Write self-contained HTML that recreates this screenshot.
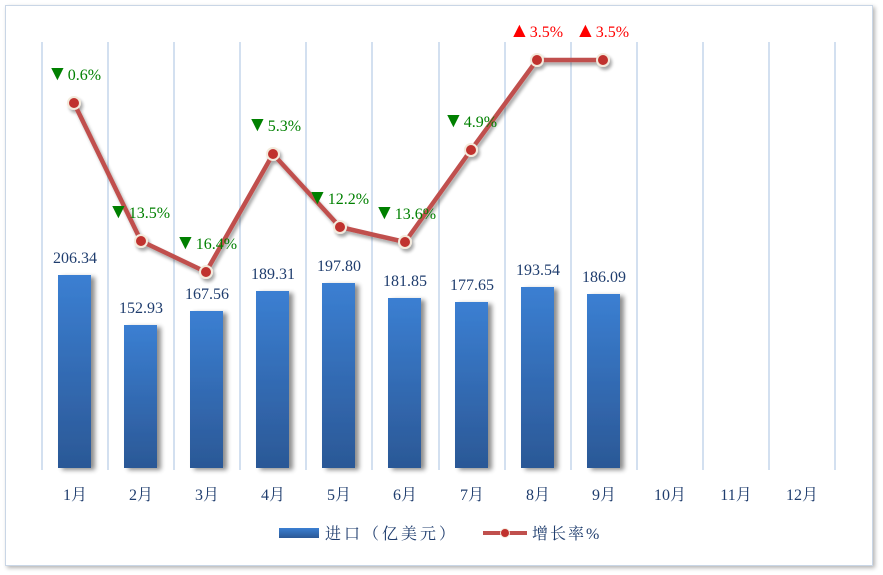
<!DOCTYPE html>
<html><head><meta charset="utf-8"><style>
body{margin:0;background:#fff;}
svg{display:block;font-family:"Liberation Serif","Noto Serif CJK SC",serif;}
</style></head><body>
<svg width="883" height="575" viewBox="0 0 883 575" xmlns="http://www.w3.org/2000/svg">
<defs>
<linearGradient id="bg" x1="0" y1="0" x2="0" y2="1"><stop offset="0" stop-color="#3b7fd2"/><stop offset="1" stop-color="#2b5896"/></linearGradient>
<filter id="sh" x="-30%" y="-10%" width="160%" height="120%"><feGaussianBlur in="SourceAlpha" stdDeviation="2.5"/><feOffset dx="4" dy="2"/><feComponentTransfer><feFuncA type="linear" slope="0.45"/></feComponentTransfer><feMerge><feMergeNode/><feMergeNode in="SourceGraphic"/></feMerge></filter>
<filter id="ls" x="-10%" y="-10%" width="120%" height="130%"><feGaussianBlur in="SourceAlpha" stdDeviation="1.5"/><feOffset dx="2" dy="3"/><feComponentTransfer><feFuncA type="linear" slope="0.35"/></feComponentTransfer><feMerge><feMergeNode/><feMergeNode in="SourceGraphic"/></feMerge></filter>
<filter id="bs" x="-5%" y="-5%" width="110%" height="110%"><feGaussianBlur in="SourceAlpha" stdDeviation="2"/><feOffset dx="2" dy="2"/><feComponentTransfer><feFuncA type="linear" slope="0.3"/></feComponentTransfer><feMerge><feMergeNode/><feMergeNode in="SourceGraphic"/></feMerge></filter>
</defs>
<rect x="5.5" y="5.5" width="867" height="560" fill="#fff" stroke="#c9d6e6" filter="url(#bs)"/>
<g stroke="#d3e0f0" stroke-width="2">
<line x1="42" y1="42" x2="42" y2="470"/><line x1="108" y1="42" x2="108" y2="470"/><line x1="174" y1="42" x2="174" y2="470"/><line x1="240" y1="42" x2="240" y2="470"/><line x1="306" y1="42" x2="306" y2="470"/><line x1="372" y1="42" x2="372" y2="470"/><line x1="439" y1="42" x2="439" y2="470"/><line x1="505" y1="42" x2="505" y2="470"/><line x1="571" y1="42" x2="571" y2="470"/><line x1="637" y1="42" x2="637" y2="470"/><line x1="703" y1="42" x2="703" y2="470"/><line x1="769" y1="42" x2="769" y2="470"/><line x1="835" y1="42" x2="835" y2="470"/>
</g>
<line x1="42" y1="469" x2="835" y2="469" stroke="#c5d3e5" stroke-width="2" filter="url(#sh)"/>
<g fill="url(#bg)" filter="url(#sh)">
<rect x="58" y="275" width="33" height="193"/>
<rect x="124" y="325" width="33" height="143"/>
<rect x="190" y="311" width="33" height="157"/>
<rect x="256" y="291" width="33" height="177"/>
<rect x="322" y="283" width="33" height="185"/>
<rect x="388" y="298" width="33" height="170"/>
<rect x="455" y="302" width="33" height="166"/>
<rect x="521" y="287" width="33" height="181"/>
<rect x="587" y="294" width="33" height="174"/>
</g>
<g fill="#1f3d6e" font-size="16" text-anchor="middle">
<text x="75" y="263">206.34</text><text x="141" y="313">152.93</text><text x="207" y="299">167.56</text><text x="273" y="279">189.31</text><text x="339" y="271">197.80</text><text x="405" y="286">181.85</text><text x="472" y="290">177.65</text><text x="538" y="275">193.54</text><text x="604" y="282">186.09</text>
</g>
<g filter="url(#ls)">
<polyline points="74,103 141,241 206,272 273,154 340,227 405,242 471,150 537,60 603,60" fill="none" stroke="#c0504d" stroke-width="4.5" stroke-linejoin="round"/>
<g fill="#c0312d" stroke="#f3eadc" stroke-width="2">
<circle cx="74" cy="103" r="6"/><circle cx="141" cy="241" r="6"/><circle cx="206" cy="272" r="6"/><circle cx="273" cy="154" r="6"/><circle cx="340" cy="227" r="6"/><circle cx="405" cy="242" r="6"/><circle cx="471" cy="150" r="6"/><circle cx="537" cy="60" r="6"/><circle cx="603" cy="60" r="6"/>
</g></g>
<g fill="#008000" font-size="16">
<text x="47" y="80"><tspan font-size="21">▼</tspan>0.6%</text><text x="108" y="218"><tspan font-size="21">▼</tspan>13.5%</text><text x="175" y="249"><tspan font-size="21">▼</tspan>16.4%</text><text x="247" y="131"><tspan font-size="21">▼</tspan>5.3%</text><text x="307" y="204"><tspan font-size="21">▼</tspan>12.2%</text><text x="374" y="219"><tspan font-size="21">▼</tspan>13.6%</text><text x="443" y="127"><tspan font-size="21">▼</tspan>4.9%</text>
</g>
<g fill="#ff0000" font-size="16"><text x="509" y="37"><tspan font-size="21">▲</tspan>3.5%</text><text x="575" y="37"><tspan font-size="21">▲</tspan>3.5%</text></g>
<g fill="#1f3d6e" font-size="16" text-anchor="middle">
<text x="75" y="500">1月</text><text x="141" y="500">2月</text><text x="207" y="500">3月</text><text x="273" y="500">4月</text><text x="339" y="500">5月</text><text x="405" y="500">6月</text><text x="472" y="500">7月</text><text x="538" y="500">8月</text><text x="604" y="500">9月</text><text x="670" y="500">10月</text><text x="736" y="500">11月</text><text x="802" y="500">12月</text>
</g>
<rect x="279" y="528" width="40" height="10" fill="url(#bg)"/>
<text x="325" y="539" font-size="16" fill="#1f3d6e" letter-spacing="3">进口（亿美元）</text>
<line x1="483" y1="533" x2="527" y2="533" stroke="#c0504d" stroke-width="4"/>
<circle cx="505" cy="533" r="4.5" fill="#c0312d" stroke="#f3eadc" stroke-width="1"/>
<text x="532" y="539" font-size="16" fill="#1f3d6e" letter-spacing="2">增长率%</text>
</svg>
</body></html>
